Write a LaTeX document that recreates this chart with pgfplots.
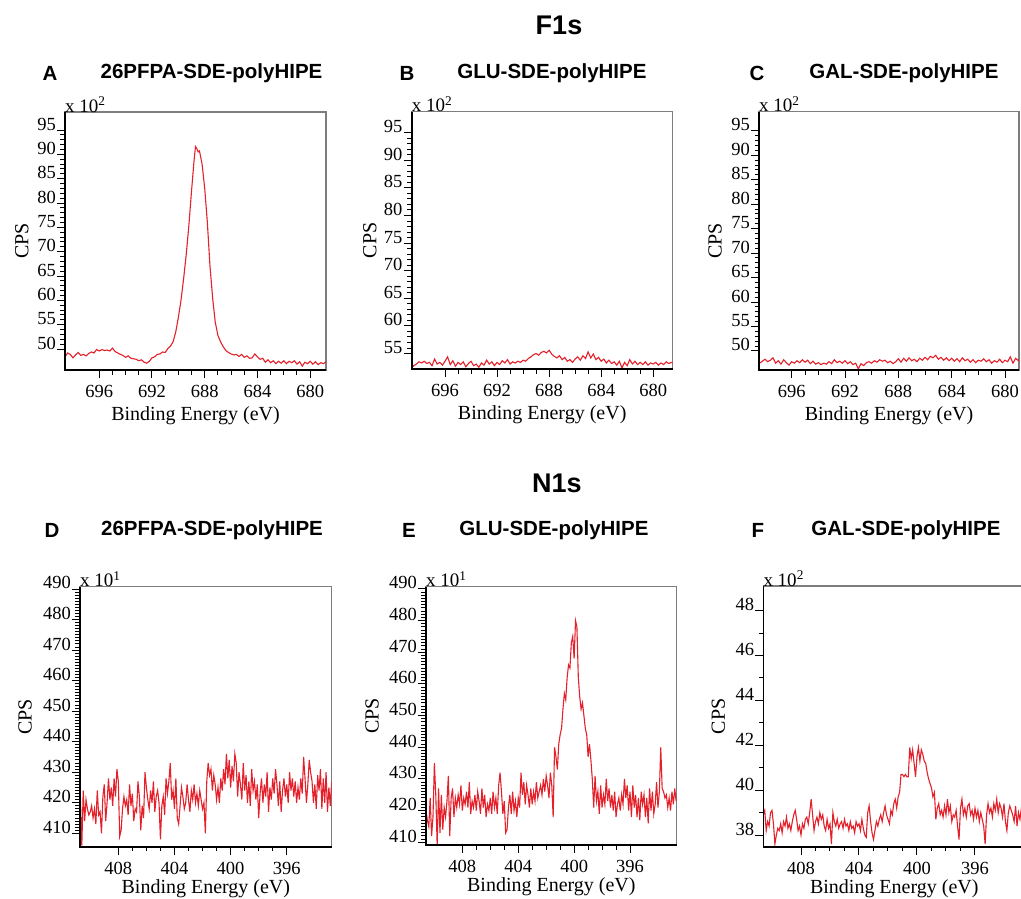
\documentclass[border=0pt]{standalone}
\usepackage{fontspec}
\setmainfont{Liberation Serif}
\newfontfamily\headfont{Liberation Sans}
\usepackage{pgfplots}
\pgfplotsset{compat=1.18}
\definecolor{specred}{RGB}{228,32,42}
\definecolor{framegray}{RGB}{125,125,125}

\pgfplotsset{
  xps/.style={
    scale only axis, anchor=north west, x dir=reverse,
    axis line style={draw=framegray, line width=1.2pt},
    tick align=outside, xtick pos=bottom, ytick pos=left,
    major tick length=8pt, minor tick length=4.5pt,
    every tick/.append style={black, line width=1pt},
    minor x tick num=3,
    tick label style={font=\fontsize{18.5}{20}\selectfont},
    label style={font=\fontsize{20}{22}\selectfont},
    /pgf/number format/assume math mode=true,
    /pgf/number format/1000 sep={},
    xlabel={Binding Energy (eV)}, ylabel={CPS},
    yticklabel style={anchor=base east, inner sep=1pt},
    xticklabel style={anchor=north, inner sep=1pt, yshift=-6pt},
    clip mode=individual,
  },
  % where the two axis labels sit, as fractions of the axis box
  labpos/.style 2 args={
    xlabel style={at={(axis description cs:0.5,#2)}, anchor=center},
    ylabel style={at={(axis description cs:#1,0.5)}, anchor=center},
  },
  % black left/bottom lines and the "x 10^n" multiplier
  mult/.style={after end axis/.code={
      \draw[black, line width=1.6pt] (axis description cs:0,1) -- (axis description cs:0,0) -- (axis description cs:1,0);
      \node[anchor=base west, inner sep=0pt, font=\fontsize{19}{20}\selectfont]
        at (axis description cs:0,1) {x 10\textsuperscript{#1}};}},
  spec/.style={specred, line width=1.1pt},
}

\begin{document}
\begin{tikzpicture}
\useasboundingbox (0pt,0pt) rectangle (1021pt,-898pt);

% headings
\node[font=\headfont\bfseries\fontsize{27}{29}\selectfont] at (559pt,-25pt) {F1s};
\node[font=\headfont\bfseries\fontsize{27}{29}\selectfont] at (557pt,-483pt) {N1s};
\begin{scope}[every node/.style={font=\headfont\bfseries\fontsize{20.5}{22}\selectfont}]
\node at (50pt,-73pt) {A};   \node at (211.5pt,-73pt) {26PFPA-SDE-polyHIPE};
\node at (407pt,-73pt) {B};  \node at (552pt,-73pt) {GLU-SDE-polyHIPE};
\node at (757pt,-73pt) {C};  \node at (904pt,-73pt) {GAL-SDE-polyHIPE};
\node at (52pt,-530pt) {D};  \node at (212pt,-530pt) {26PFPA-SDE-polyHIPE};
\node at (409pt,-530pt) {E}; \node at (554pt,-530pt) {GLU-SDE-polyHIPE};
\node at (758pt,-530pt) {F}; \node at (906pt,-530pt) {GAL-SDE-polyHIPE};
\end{scope}

% ---------------- A ----------------
\begin{axis}[xps, mult=2, labpos={-0.165}{-0.176},
  at={(65pt,-112pt)}, width=261pt, height=258pt,
  xmin=678.8, xmax=698.6, ymin=45.7, ymax=98.7,
  xtick={680,684,688,692,696}, ytick={50,55,...,95}, minor y tick num=4]
\addplot[spec] coordinates {
(698.6,48.4) (698.4,49.2) (698.2,48.9) (698.0,48.2) (697.8,48.8) (697.6,49.3)
(697.4,48.7) (697.2,48.9) (697.0,48.6) (696.8,49.1) (696.6,49.4) (696.4,49.2)
(696.2,49.9) (696.0,49.6) (695.8,49.9) (695.6,49.7) (695.4,49.8) (695.2,49.6)
(695.0,50.2) (694.8,49.5) (694.6,49.2) (694.4,48.9) (694.2,48.7) (694.0,48.3)
(693.8,48.6) (693.6,48.1) (693.4,48.0) (693.2,47.9) (693.0,47.6) (692.8,47.8)
(692.6,47.3) (692.4,47.1) (692.2,47.5) (692.0,48.2) (691.8,48.4) (691.6,48.9)
(691.4,49.0) (691.2,49.4) (691.0,49.3) (690.8,50.1) (690.6,50.6) (690.4,51.5)
(690.2,53.5) (690.0,56.5) (689.8,60.0) (689.6,64.5) (689.4,69.5) (689.2,75.5)
(689.0,82.5) (688.8,89.0) (688.7,91.6) (688.6,91.2) (688.5,90.5) (688.4,90.7)
(688.2,88.0) (688.0,83.0) (687.8,76.0) (687.6,67.0) (687.4,60.5) (687.2,55.5)
(687.0,52.8) (686.8,51.5) (686.6,50.5) (686.4,49.7) (686.2,49.3) (686.0,49.0)
(685.8,48.8) (685.6,48.9) (685.4,48.5) (685.2,48.9) (685.0,48.3) (684.8,48.6)
(684.6,48.1) (684.4,48.2) (684.2,49.0) (684.0,48.4) (683.8,47.9) (683.6,48.1)
(683.4,47.3) (683.2,47.8) (683.0,47.2) (682.8,47.6) (682.6,47.0) (682.4,47.5)
(682.2,47.1) (682.0,47.6) (681.8,47.0) (681.6,47.5) (681.4,47.2) (681.2,47.6)
(681.0,46.9) (680.8,47.4) (680.6,46.5) (680.4,47.3) (680.2,47.0) (680.0,47.5)
(679.8,46.9) (679.6,47.4) (679.4,46.8) (679.2,47.2) (679.0,47.0) (678.8,47.4)
};
\end{axis}

% ---------------- B ----------------
\begin{axis}[xps, mult=2, labpos={-0.160}{-0.176},
  at={(411.7pt,-111.7pt)}, width=261pt, height=257.3pt,
  xmin=678.5, xmax=698.56, ymin=52.2, ymax=98.8,
  xtick={680,684,688,692,696}, ytick={55,60,...,95}, minor y tick num=4]
\addplot[spec] coordinates {
(698.6,52.3) (698.4,52.8) (698.2,53.1) (698.0,53.5) (697.8,53.3) (697.6,53.6)
(697.4,53.2) (697.2,53.4) (697.0,52.8) (696.8,54.0) (696.6,53.1) (696.4,53.4)
(696.2,52.9) (696.0,53.6) (695.8,54.4) (695.6,53.0) (695.4,53.7) (695.2,52.7)
(695.0,53.4) (694.8,53.0) (694.6,53.5) (694.4,52.6) (694.2,53.2) (694.0,53.6)
(693.8,52.8) (693.6,53.1) (693.4,52.5) (693.2,53.3) (693.0,52.9) (692.8,53.8)
(692.6,53.1) (692.4,53.5) (692.2,52.8) (692.0,53.4) (691.8,53.0) (691.6,53.7)
(691.4,53.3) (691.2,53.9) (691.0,53.1) (690.8,53.5) (690.6,53.3) (690.4,53.6)
(690.2,53.4) (690.0,53.8) (689.8,53.6) (689.6,54.1) (689.4,54.4) (689.2,54.8)
(689.0,55.0) (688.8,54.7) (688.6,55.2) (688.4,55.4) (688.2,55.1) (688.0,55.6)
(687.8,54.9) (687.6,54.5) (687.4,54.2) (687.2,54.6) (687.0,53.9) (686.8,54.3)
(686.6,53.6) (686.4,53.9) (686.2,53.4) (686.0,54.0) (685.8,54.4) (685.6,53.8)
(685.4,54.6) (685.2,54.1) (685.0,55.3) (684.8,54.2) (684.6,54.9) (684.4,53.9)
(684.2,54.3) (684.0,53.6) (683.8,54.0) (683.6,53.3) (683.4,53.8) (683.2,53.2)
(683.0,53.5) (682.8,52.9) (682.6,53.6) (682.4,52.4) (682.2,53.4) (682.0,52.8)
(681.8,53.9) (681.6,53.1) (681.4,53.6) (681.2,53.0) (681.0,53.4) (680.8,53.0)
(680.6,53.5) (680.4,52.9) (680.2,53.3) (680.0,53.1) (679.8,53.4) (679.6,52.9)
(679.4,53.3) (679.2,53.0) (679.0,53.5) (678.8,53.2) (678.6,53.4) (678.5,53.3)
};
\end{axis}

% ---------------- C ----------------
\begin{axis}[xps, mult=2, labpos={-0.169}{-0.176},
  at={(759pt,-111.7pt)}, width=260pt, height=258.3pt,
  xmin=678.95, xmax=698.45, ymin=46.1, ymax=98.9,
  xtick={680,684,688,692,696}, ytick={50,55,...,95}, minor y tick num=4]
\addplot[spec] coordinates {
(698.45,47.4) (698.2,47.9) (698.0,48.3) (697.8,47.8) (697.6,48.1) (697.4,48.6)
(697.2,47.5) (697.0,48.0) (696.8,47.3) (696.6,48.2) (696.4,47.6) (696.2,47.1)
(696.0,47.8) (695.8,47.5) (695.6,48.0) (695.4,47.6) (695.2,48.2) (695.0,47.7)
(694.8,48.1) (694.6,47.4) (694.4,47.9) (694.2,47.3) (694.0,47.6) (693.8,47.2)
(693.6,47.5) (693.4,47.3) (693.2,47.8) (693.0,47.4) (692.8,48.2) (692.6,47.6)
(692.4,47.9) (692.2,47.5) (692.0,48.0) (691.8,47.4) (691.6,47.8) (691.4,47.2)
(691.2,47.5) (691.0,46.3) (690.8,47.4) (690.6,47.0) (690.4,47.6) (690.2,47.8)
(690.0,47.5) (689.8,48.0) (689.6,47.7) (689.4,48.2) (689.2,47.9) (689.0,48.1)
(688.8,47.6) (688.6,47.9) (688.4,47.4) (688.2,47.8) (688.0,48.4) (687.8,47.7)
(687.6,48.5) (687.4,47.9) (687.2,48.6) (687.0,48.0) (686.8,48.3) (686.6,47.8)
(686.4,48.5) (686.2,48.1) (686.0,48.7) (685.8,48.2) (685.6,48.9) (685.4,48.6)
(685.2,49.1) (685.0,48.3) (684.8,48.7) (684.6,48.1) (684.4,48.6) (684.2,48.0)
(684.0,48.5) (683.8,47.9) (683.6,48.4) (683.4,47.8) (683.2,48.6) (683.0,48.0)
(682.8,48.3) (682.6,47.7) (682.4,48.2) (682.2,47.6) (682.0,48.1) (681.8,47.9)
(681.6,48.4) (681.4,47.8) (681.2,48.2) (681.0,47.5) (680.8,48.0) (680.6,47.7)
(680.4,48.3) (680.2,47.6) (680.0,48.1) (679.8,47.8) (679.6,48.8) (679.4,47.5)
(679.2,48.5) (679.0,48.0) (678.95,48.2)
};
\end{axis}

% ---------------- D ----------------
\begin{axis}[xps, mult=1, labpos={-0.2185}{-0.160},
  at={(80pt,-586.7pt)}, width=251.7pt, height=260pt,
  xmin=392.8, xmax=410.73, ymin=405.6, ymax=490.75,
  xtick={396,400,404,408}, ytick={410,420,...,490}, minor y tick num=9]
\addplot[spec] coordinates {
(410.7,421) (410.6,406) (410.5,424) (410.4,414) (410.3,421) (410.2,418) (410.1,416) (410.0,417)
(409.9,419) (409.8,415) (409.7,418) (409.6,413) (409.5,424) (409.4,416) (409.3,417) (409.2,410)
(409.1,422) (409.0,426) (408.9,414) (408.8,420) (408.7,428) (408.6,421) (408.5,425) (408.4,419)
(408.3,428) (408.2,422) (408.1,431) (408.0,427) (407.9,409) (407.8,411) (407.7,418) (407.6,422)
(407.5,419) (407.4,421) (407.3,416) (407.2,426) (407.1,419) (407.0,423) (406.9,414) (406.8,418)
(406.7,417) (406.6,427) (406.5,422) (406.4,411) (406.3,419) (406.2,415) (406.1,430) (406.0,425)
(405.9,421) (405.8,418) (405.7,424) (405.6,420) (405.5,427) (405.4,417) (405.3,422) (405.2,424)
(405.1,420) (405.0,408) (404.9,419) (404.8,422) (404.7,416) (404.6,428) (404.5,423) (404.4,427)
(404.3,433) (404.2,421) (404.1,424) (404.0,418) (403.9,428) (403.8,415) (403.7,413) (403.6,419)
(403.5,425) (403.4,422) (403.3,418) (403.2,420) (403.1,426) (403.0,421) (402.9,417) (402.8,424)
(402.7,421) (402.6,426) (402.5,420) (402.4,423) (402.3,419) (402.2,424) (402.1,421) (402.0,418)
(401.9,420) (401.8,410) (401.7,427) (401.6,433) (401.5,429) (401.4,431) (401.3,424) (401.2,429)
(401.1,426) (401.0,421) (400.9,425) (400.8,420) (400.7,428) (400.6,424) (400.5,431) (400.4,426)
(400.3,436) (400.2,428) (400.1,434) (400.0,425) (399.9,432) (399.8,427) (399.7,436) (399.6,433)
(399.5,422) (399.4,430) (399.3,426) (399.2,421) (399.1,433) (399.0,424) (398.9,429) (398.8,420)
(398.7,427) (398.6,419) (398.5,431) (398.4,424) (398.3,427) (398.2,421) (398.1,426) (398.0,415)
(397.9,423) (397.8,428) (397.7,420) (397.6,426) (397.5,422) (397.4,430) (397.3,417) (397.2,425)
(397.1,421) (397.0,428) (396.9,423) (396.8,431) (396.7,426) (396.6,419) (396.5,427) (396.4,417)
(396.3,424) (396.2,428) (396.1,422) (396.0,426) (395.9,420) (395.8,430) (395.7,424) (395.6,428)
(395.5,422) (395.4,427) (395.3,420) (395.2,425) (395.1,421) (395.0,428) (394.9,423) (394.8,435)
(394.7,428) (394.6,420) (394.5,426) (394.4,434) (394.3,430) (394.2,427) (394.1,420) (394.0,426)
(393.9,418) (393.8,429) (393.7,424) (393.6,431) (393.5,418) (393.4,428) (393.3,420) (393.2,430)
(393.1,417) (393.0,425) (392.9,419) (392.8,427)
};
\end{axis}

% ---------------- E ----------------
\begin{axis}[xps, mult=1, labpos={-0.215}{-0.160},
  at={(426pt,-586.7pt)}, width=250.7pt, height=258.3pt,
  xmin=392.66, xmax=410.6, ymin=409.15, ymax=490.7,
  xtick={396,400,404,408}, ytick={410,420,...,490}, minor y tick num=9]
\addplot[spec] coordinates {
(410.6,420) (410.5,417) (410.4,415) (410.3,424) (410.2,412) (410.1,418) (410.0,435) (409.9,425)
(409.8,409) (409.7,427) (409.6,413) (409.5,425) (409.4,414) (409.3,421) (409.2,418) (409.1,423)
(409.0,431) (408.9,412) (408.8,424) (408.7,427) (408.6,418) (408.5,424) (408.4,421) (408.3,425)
(408.2,422) (408.1,428) (408.0,420) (407.9,424) (407.8,422) (407.7,426) (407.6,421) (407.5,429)
(407.4,419) (407.3,423) (407.2,421) (407.1,425) (407.0,420) (406.9,426) (406.8,423) (406.7,419)
(406.6,427) (406.5,421) (406.4,425) (406.3,418) (406.2,422) (406.1,420) (406.0,424) (405.9,419)
(405.8,426) (405.7,421) (405.6,424) (405.5,419) (405.4,428) (405.3,432) (405.2,426) (405.1,419)
(405.0,423) (404.9,413) (404.8,414) (404.7,421) (404.6,425) (404.5,419) (404.4,426) (404.3,420)
(404.2,423) (404.1,418) (404.0,424) (403.9,421) (403.8,432) (403.7,425) (403.6,429) (403.5,422)
(403.4,428) (403.3,425) (403.2,421) (403.1,427) (403.0,422) (402.9,426) (402.8,423) (402.7,429)
(402.6,424) (402.5,426) (402.4,428) (402.3,425) (402.2,430) (402.1,426) (402.0,431) (401.9,428)
(401.8,424) (401.7,432) (401.6,428) (401.5,418) (401.4,440) (401.3,437) (401.2,433) (401.1,441)
(401.0,444) (400.9,446) (400.8,452) (400.7,457) (400.6,455) (400.5,462) (400.4,466) (400.3,465)
(400.2,473) (400.1,475) (400.0,468) (399.9,480) (399.8,478) (399.7,462) (399.6,456) (399.5,452)
(399.4,454) (399.3,450) (399.2,446) (399.1,444) (399.0,437) (398.9,441) (398.8,436) (398.7,430)
(398.6,421) (398.5,431) (398.4,423) (398.3,426) (398.2,419) (398.1,428) (398.0,421) (397.9,425)
(397.8,422) (397.7,430) (397.6,423) (397.5,427) (397.4,421) (397.3,425) (397.2,420) (397.1,426)
(397.0,418) (396.9,422) (396.8,424) (396.7,420) (396.6,425) (396.5,422) (396.4,430) (396.3,424)
(396.2,428) (396.1,420) (396.0,426) (395.9,418) (395.8,428) (395.7,421) (395.6,425) (395.5,418)
(395.4,424) (395.3,417) (395.2,426) (395.1,422) (395.0,425) (394.9,418) (394.8,424) (394.7,416)
(394.6,427) (394.5,420) (394.4,426) (394.3,419) (394.2,422) (394.1,429) (394.0,421) (393.9,426)
(393.8,440) (393.7,427) (393.6,426) (393.5,424) (393.4,425) (393.3,421) (393.2,424) (393.1,420)
(393.0,426) (392.9,422) (392.8,427) (392.7,423)
};
\end{axis}

% ---------------- F ----------------
\begin{axis}[xps, mult=2, labpos={-0.172}{-0.160},
  at={(763.3pt,-586pt)}, width=262pt, height=260.7pt,
  xmin=392.53, xmax=410.6, ymin=37.48, ymax=49.1,
  xtick={396,400,404,408}, ytick={38,40,...,48}, minor y tick num=1]
\addplot[spec] coordinates {
(410.6,38.9) (410.5,39.1) (410.4,38.2) (410.3,38.6) (410.2,38.4) (410.1,39.0) (410.0,39.1) (409.9,38.5)
(409.8,37.6) (409.7,38.0) (409.6,38.3) (409.5,38.2) (409.4,38.5) (409.3,38.1) (409.2,38.6) (409.1,38.4)
(409.0,38.8) (408.9,38.3) (408.8,38.5) (408.7,38.2) (408.6,38.6) (408.5,38.9) (408.4,39.1) (408.3,38.7)
(408.2,38.2) (408.1,38.4) (408.0,38.0) (407.9,38.5) (407.8,38.3) (407.7,38.7) (407.6,38.8) (407.5,38.5)
(407.4,39.0) (407.3,39.6) (407.2,38.9) (407.1,38.2) (407.0,38.6) (406.9,38.8) (406.8,38.5) (406.7,39.0)
(406.6,38.7) (406.5,38.9) (406.4,38.4) (406.3,38.2) (406.2,38.7) (406.1,38.3) (406.0,38.5) (405.9,37.6)
(405.8,39.0) (405.7,38.6) (405.6,38.4) (405.5,38.7) (405.4,38.3) (405.3,38.5) (405.2,38.6) (405.1,38.3)
(405.0,38.7) (404.9,38.4) (404.8,38.5) (404.7,38.2) (404.6,38.6) (404.5,38.3) (404.4,38.4) (404.3,38.1)
(404.2,38.6) (404.1,38.4) (404.0,38.5) (403.9,38.2) (403.8,38.7) (403.7,38.3) (403.6,38.0) (403.5,37.9)
(403.4,39.0) (403.3,39.3) (403.2,38.6) (403.1,38.1) (403.0,37.8) (402.9,38.2) (402.8,38.6) (402.7,38.4)
(402.6,38.7) (402.5,38.9) (402.4,38.6) (402.3,39.0) (402.2,39.3) (402.1,38.9) (402.0,38.7) (401.9,38.5)
(401.8,39.1) (401.7,38.9) (401.6,39.4) (401.5,39.6) (401.4,39.2) (401.3,39.7) (401.2,39.9) (401.1,40.7)
(401.0,40.7) (400.9,40.6) (400.8,40.7) (400.7,40.6) (400.6,40.6) (400.5,41.9) (400.4,41.4) (400.3,41.8)
(400.2,41.2) (400.1,40.6) (400.0,41.5) (399.9,41.9) (399.8,41.3) (399.7,41.8) (399.6,41.6) (399.5,41.3)
(399.4,41.2) (399.3,40.8) (399.2,40.5) (399.1,40.3) (399.0,40.1) (398.9,39.7) (398.8,39.9) (398.7,38.7)
(398.6,39.2) (398.5,39.4) (398.4,38.9) (398.3,39.1) (398.2,38.8) (398.1,39.3) (398.0,38.9) (397.9,39.6)
(397.8,39.0) (397.7,39.3) (397.6,38.6) (397.5,38.9) (397.4,38.8) (397.3,39.1) (397.2,38.4) (397.1,37.8)
(397.0,39.2) (396.9,39.6) (396.8,38.9) (396.7,39.2) (396.6,38.8) (396.5,39.3) (396.4,39.4) (396.3,38.9)
(396.2,39.1) (396.1,38.7) (396.0,39.2) (395.9,38.8) (395.8,39.1) (395.7,38.6) (395.6,39.0) (395.5,38.7)
(395.4,38.4) (395.3,37.6) (395.2,38.9) (395.1,39.4) (395.0,39.0) (394.9,39.2) (394.8,38.8) (394.7,39.4)
(394.6,39.1) (394.5,39.6) (394.4,39.0) (394.3,39.4) (394.2,39.2) (394.1,38.8) (394.0,39.4) (393.9,38.6)
(393.8,38.2) (393.7,39.0) (393.6,39.3) (393.5,39.1) (393.4,38.9) (393.3,38.6) (393.2,39.3) (393.1,38.4)
(393.0,39.0) (392.9,38.7) (392.8,39.2) (392.7,38.8) (392.6,39.0)
};
\end{axis}
\end{tikzpicture}
\end{document}
